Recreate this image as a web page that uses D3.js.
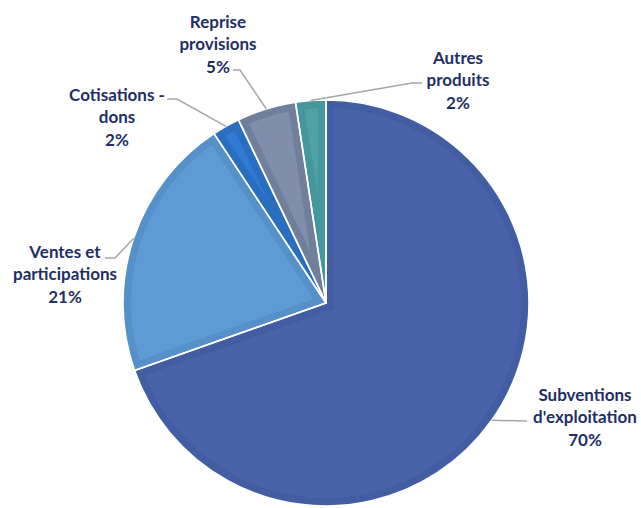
<!DOCTYPE html>
<html><head><meta charset="utf-8">
<script src="https://cdn.jsdelivr.net/npm/d3@7"></script>
<style>body{margin:0;background:#fff}svg{display:block}</style>
</head><body>
<svg id="c" width="641" height="508"></svg>
<script>
const categories = ["Subventions\nd'exploitation", "Ventes et\nparticipations", "Cotisations -\ndons", "Reprise\nprovisions", "Autres\nproduits"];
const values = [69.6, 21.1, 2.2, 4.7, 2.4];
const fillColors = ["#4962AA", "#5E9BD4", "#2F7BD3", "#7F8EAB", "#4FA3A8"];
const bandColors = ["#435DA3", "#5690C8", "#2A6EC0", "#727F9C", "#44979C"];
// label layout: elbow point, end of leader, label centre (relative to chart)
const labelLayout = [
  {elbow:[527,421], end:[527,421], tx:585, ty:395},
  {elbow:[115,258], end:[105,258], tx:65, ty:252},
  {elbow:[177,99], end:[167,99], tx:117, ty:95},
  {elbow:[240,70], end:[233,70], tx:218, ty:22},
  {elbow:[412,83], end:[422,83], tx:458, ty:58}
];

const svg = d3.select("#c");
const cx = 326, cy = 303, R = 203;
const total = d3.sum(values);
const pie = d3.pie().sort(null).value(d => d)(values);
const arc = d3.arc().innerRadius(0).outerRadius(R);
const g = svg.append("g").attr("transform", `translate(${cx},${cy})`);
const defs = svg.append("defs");

pie.forEach((p, i) => {
  const d = arc(p);
  defs.append("clipPath").attr("id", "cl" + i).append("path").attr("d", d);
  g.append("path").attr("d", d).attr("fill", fillColors[i])
    .attr("stroke", bandColors[i]).attr("stroke-width", 16)
    .attr("clip-path", `url(#cl${i})`);
});
pie.forEach((p, i) => {
  g.append("path").attr("d", arc(p)).attr("fill", "none")
    .attr("stroke", "#fff").attr("stroke-width", 1.6).attr("stroke-linejoin", "round");
});

// leaders and labels
pie.forEach((p, i) => {
  const a = (p.startAngle + p.endAngle) / 2;
  const ex = cx + R * Math.sin(a), ey = cy - R * Math.cos(a);
  const L = labelLayout[i];
  svg.append("polyline")
    .attr("points", [[ex, ey], L.elbow, L.end].map(q => q.join(",")).join(" "))
    .attr("fill", "none").attr("stroke", "#A6A6A6").attr("stroke-width", 1.5);
  const lines = categories[i].split("\n").concat([Math.round(values[i] / total * 100) + "%"]);
  const t = svg.append("text").attr("text-anchor", "middle")
    .attr("font-family", "Lato, 'Open Sans', sans-serif").attr("font-weight", "bold")
    .attr("font-size", 17).attr("fill", "#1F2F66");
  lines.forEach((s, j) => {
    t.append("tspan").attr("x", L.tx).attr("y", L.ty + j * 22.5).attr("dy", "0.35em").text(s);
  });
});
</script>
</body></html>
